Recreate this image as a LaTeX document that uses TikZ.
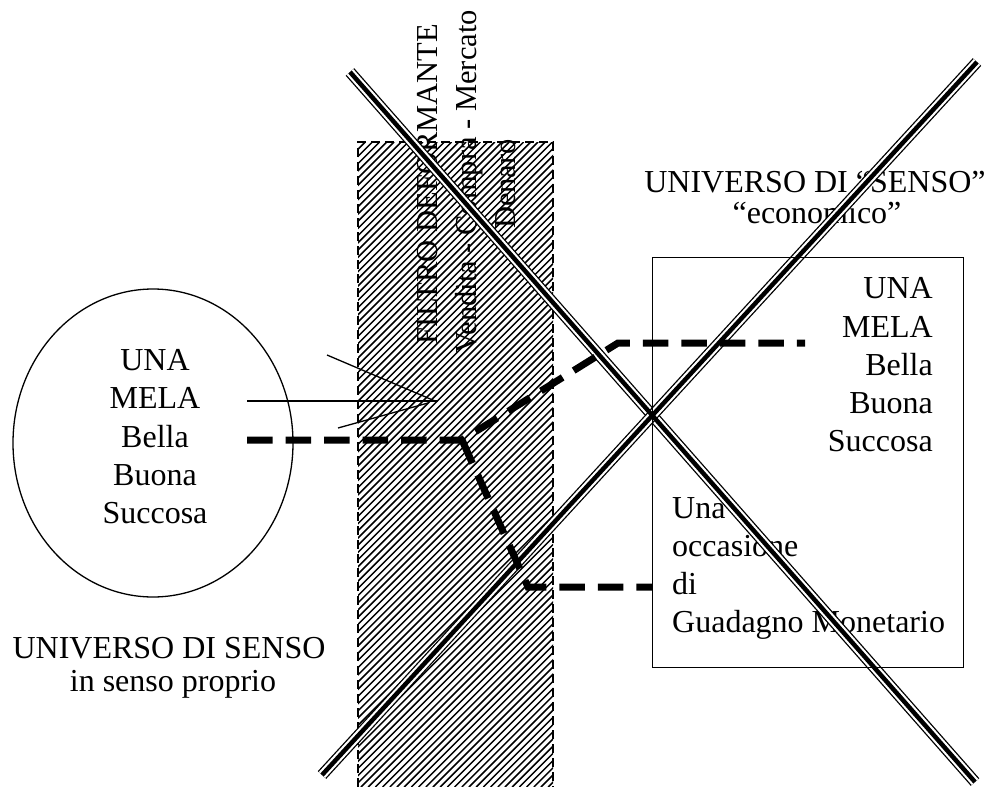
\documentclass[tikz,border=0pt]{standalone}
\usepackage{fontspec}
\setmainfont{Liberation Serif}
\usetikzlibrary{shapes.geometric}
\begin{document}
\begin{tikzpicture}[x=1pt,y=-1pt,
  txt/.style={font=\fontsize{32}{38.4}\selectfont, inner sep=0pt},
  vtxt/.style={font=\fontsize{30.5}{38}\selectfont, inner sep=0pt, anchor=base, rotate=90},
  thinln/.style={line width=1.3pt},
  xline/.style={line width=1.3pt, draw=black, double=white, double distance=8.8pt},
  xcore/.style={line width=4.5pt},
  thickdash/.style={line width=7pt, dash pattern=on 25.5pt off 13pt},
  hatchborder/.style={line width=2.2pt, dash pattern=on 9pt off 5pt}
  ]
\useasboundingbox (0,0) rectangle (988,787);
% hatched filter band
\begin{scope}
  \clip (358,142) rectangle (553,787);
  \foreach \i in {0,...,117}{
    \pgfmathsetmacro\c{500+\i*7.2}
    \draw[line width=1.5pt] (\c-787,787) -- (\c-142,142);
  }
\end{scope}
\draw[hatchborder] (358,787) -- (358,142) -- (553,142) -- (553,787);
% vertical text
\node[vtxt] (filtro) at (437,184) {FILTRO DEFORMANTE};
\node[vtxt] (vendita) at (476,182) {Vendita - Compra - Mercato};
\node[vtxt] (denaro) at (515,184) {Denaro};
% ellipse and its text
\node[draw, thinln, ellipse, minimum width=280pt, minimum height=308pt, inner sep=0pt] (ell) at (153,443) {};
\node[txt, anchor=base] (e1) at (155,370) {UNA};
\node[txt, anchor=base] (e2) at (155,408) {MELA};
\node[txt, anchor=base] (e3) at (155,447) {Bella};
\node[txt, anchor=base] (e4) at (155,485) {Buona};
\node[txt, anchor=base] (e5) at (155,523) {Succosa};
% bottom-left caption
\node[txt, anchor=base] (u1) at (169,658) {UNIVERSO DI SENSO};
\node[txt, anchor=base] (u2) at (173,691) {in senso proprio};
% top-right caption
\node[txt, anchor=base] (s1) at (815,192) {UNIVERSO DI “SENSO”};
\node[txt, anchor=base] (s2) at (817,223) {“economico”};
% box texts
\node[txt, anchor=base east] (r1) at (933,298) {UNA};
\node[txt, anchor=base east] (r2) at (933,337) {MELA};
\node[txt, anchor=base east] (r3) at (933,375) {Bella};
\node[txt, anchor=base east] (r4) at (933,413) {Buona};
\node[txt, anchor=base east] (r5) at (933,451) {Succosa};
\node[txt, anchor=base west] (g1) at (672,518) {Una};
\node[txt, anchor=base west] (g2) at (672,556) {occasione};
\node[txt, anchor=base west] (g3) at (672,594) {di};
\node[txt, anchor=base west] (g4) at (672,632) {Guadagno Monetario};
% thin converging lines
\coordinate (c0) at (435,401);
\coordinate (t1) at (327,355);
\coordinate (t2) at (247,401);
\coordinate (t3) at (338,428);
\coordinate (t2e) at (438,401);
\coordinate (t3e) at (428,403);
\draw[thinln] (t1) -- (c0);
\draw[thinln] (t2) -- (t2e);
\draw[thinln] (t3) -- (t3e);
% X lines
\coordinate (a1) at (350,72);
\coordinate (a2) at (975,782);
\coordinate (b1) at (322,775);
\coordinate (b2) at (977,62);
\draw[xline] (a1) -- (a2);
\draw[xline] (b1) -- (b2);
\draw[xcore] (a1) -- (a2);
\draw[xcore] (b1) -- (b2);
% box
\node[draw, thinln, minimum width=311pt, minimum height=410pt, inner sep=0pt, anchor=north west] (box) at (652,257) {};
% thick dashed paths
\coordinate (d0) at (247,440);
\coordinate (j) at (462,440);
\coordinate (d1) at (618,343);
\coordinate (d2) at (805,343);
\coordinate (d3) at (528,587);
\coordinate (d4) at (652,587);
\draw[thickdash] (d0) -- (j) -- (d1) -- (d2);
\draw[thickdash] (j) -- (d3) -- (d4);
\end{tikzpicture}
\end{document}
